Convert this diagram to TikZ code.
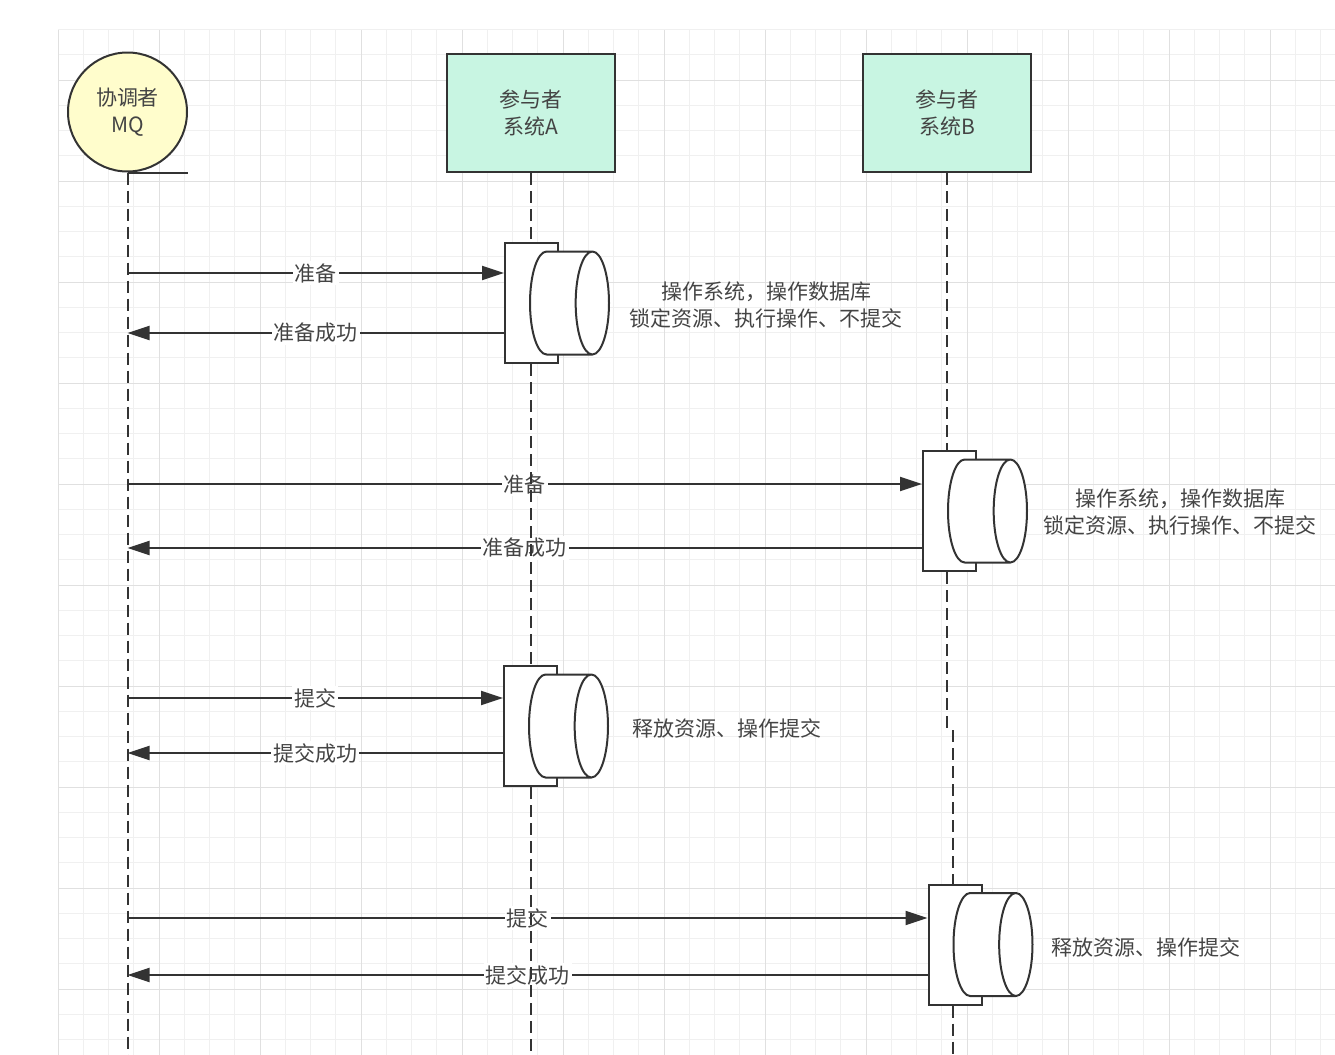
\documentclass[tikz,border=0pt]{standalone}
\usepackage{fontspec}
\newfontfamily\cjk{Noto Sans CJK SC}
\usetikzlibrary{shapes.geometric, arrows.meta, positioning}
\definecolor{linegray}{HTML}{333333}
\definecolor{textgray}{HTML}{444444}
\definecolor{mqyellow}{HTML}{FFFDCC}
\definecolor{sysgreen}{HTML}{C8F5E2}
\definecolor{gridminor}{HTML}{F0F0F0}
\definecolor{gridmajor}{HTML}{E0E0E0}
\newcommand{\diagfont}{\cjk\fontsize{10.5}{13.5}\selectfont}
\tikzset{
    actor/.style={
        circle, draw=linegray, line width=1pt,
        minimum size=59.5pt, inner sep=0pt, align=center,
        fill=mqyellow, font=\diagfont, text=textgray
    },
    system/.style={
        rectangle, draw=linegray, line width=1pt,
        minimum width=84pt, minimum height=59pt, align=center,
        fill=sysgreen, font=\diagfont, text=textgray
    },
    activation/.style={
        rectangle, draw=linegray, line width=1pt,
        minimum width=26.5pt, minimum height=60pt,
        fill=white
    },
    store/.style={
        cylinder, draw=linegray, line width=1pt,
        minimum height=39.5pt, minimum width=51.5pt,
        shape aspect=2.5, fill=white
    },
    lifeline/.style={draw=linegray, line width=1pt, dash pattern=on 6pt off 3pt},
    msg/.style={draw=linegray, line width=1pt, -{Triangle[length=11pt, width=7pt]}},
    msglabel/.style={fill=white, inner sep=1pt, font=\diagfont, text=textgray},
    note/.style={align=center, inner sep=0pt, font=\diagfont, text=textgray},
    gridline/.style={draw=gridminor, line width=0.5pt},
    gridbold/.style={draw=gridmajor, line width=0.5pt}
}

\begin{document}
\begin{tikzpicture}[x=0.5pt, y=-0.5pt]
\useasboundingbox (0,0) rectangle (1335,1055);

% background grid
\foreach \i in {0,...,50} {
    \draw[gridline] ({58+25.25*\i},30) -- ({58+25.25*\i},1055);
}
\foreach \j in {0,...,40} {
    \draw[gridline] (58,{29.5+25.25*\j}) -- (1335,{29.5+25.25*\j});
}
\foreach \i in {0,...,12} {
    \draw[gridbold] ({58+101*\i},30) -- ({58+101*\i},1055);
}
\foreach \j in {0,...,9} {
    \draw[gridbold] (58,{80+101*\j}) -- (1335,{80+101*\j});
}

% heads
\node[actor] (mq) at (127.5,112) {协调者\\MQ};
\draw[draw=linegray, line width=1pt] (mq.south) -- ++(30pt,0);
\node[system] (sysa) at (531,113) {参与者\\系统A};
\node[system] (sysb) at (947,113) {参与者\\系统B};

% activations
\node[activation] (a1) at (531.5,303) {};
\node[store, right=-15pt of a1] (ca1) {};
\node[activation] (b1) at (949.5,511) {};
\node[store, right=-15pt of b1] (cb1) {};
\node[activation] (a2) at (530.5,726) {};
\node[store, right=-15pt of a2] (ca2) {};
\node[activation] (b2) at (955,944.5) {};
\node[store, right=-15pt of b2] (cb2) {};

\node[note] (na1) at (766,305) {操作系统，操作数据库\\锁定资源、执行操作、不提交};
\node[note] (nb1) at (1180,512) {操作系统，操作数据库\\锁定资源、执行操作、不提交};
\node[note] (na2) at (727,728) {释放资源、操作提交};
\node[note] (nb2) at (1146,947) {释放资源、操作提交};

% messages
\draw[msg] (mq.south |- 0,273) -- node[msglabel] {准备} (a1.west |- 0,273);
\draw[msg] (a1.west |- 0,333) -- node[msglabel] {准备成功} (mq.south |- 0,333);
\draw[msg] (mq.south |- 0,484) -- node[msglabel] {准备} (b1.west |- 0,484);
\draw[msg] (b1.west |- 0,548) -- node[msglabel] {准备成功} (mq.south |- 0,548);
\draw[msg] (mq.south |- 0,698) -- node[msglabel] {提交} (a2.west |- 0,698);
\draw[msg] (a2.west |- 0,753) -- node[msglabel] {提交成功} (mq.south |- 0,753);
\draw[msg] (mq.south |- 0,918) -- node[msglabel] {提交} (b2.west |- 0,918);
\draw[msg] (b2.west |- 0,975) -- node[msglabel] {提交成功} (mq.south |- 0,975);

% lifelines
\coordinate (bottom) at (0,1055);
\coordinate (bjog) at (947,730);
\draw[lifeline] (mq.south) -- (mq.south |- bottom);
\draw[lifeline] (sysa.south) -- (sysa.south |- a1.north);
\draw[lifeline] (sysa.south |- a1.south) -- (sysa.south |- a2.north);
\draw[lifeline] (sysa.south |- a2.south) -- (sysa.south |- bottom);
\draw[lifeline] (sysb.south) -- (sysb.south |- b1.north);
\draw[lifeline] (sysb.south |- b1.south) -- (bjog);
\draw[lifeline] ([xshift=3pt]bjog) -- ([xshift=3pt]bjog |- b2.north);
\draw[lifeline] ([xshift=3pt]bjog |- b2.south) -- ([xshift=3pt]bjog |- bottom);

\end{tikzpicture}
\end{document}
